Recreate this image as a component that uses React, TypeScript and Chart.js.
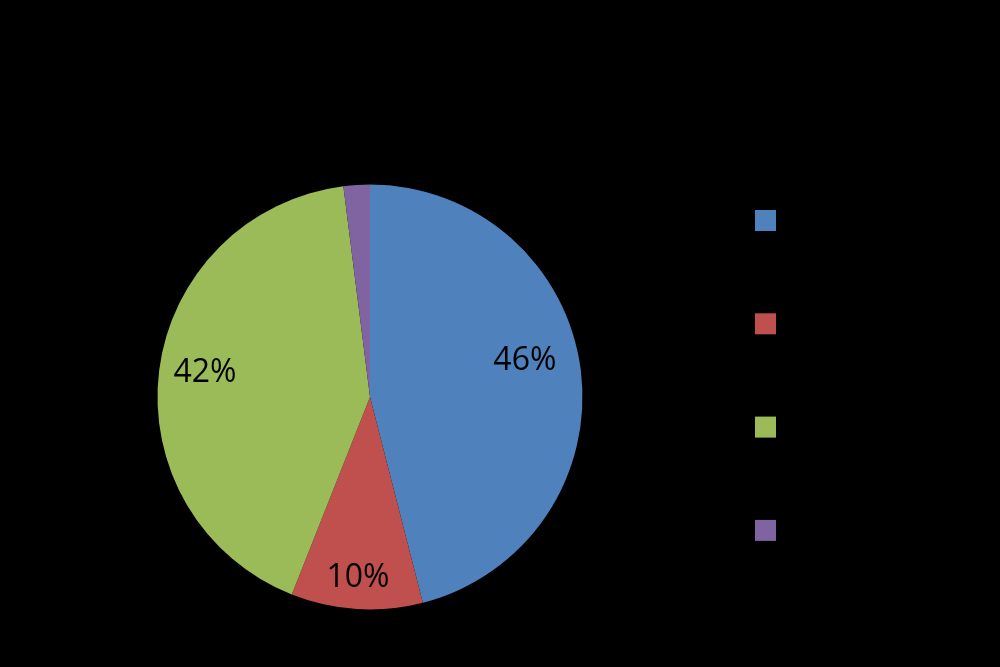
import React, { useEffect, useRef } from "react";
import { Chart, registerables } from "chart.js";

Chart.register(...registerables);

const categories = ["Series A", "Series B", "Series C", "Series D"];
const values = [46, 10, 42, 2];
const colors = ["#4F81BD", "#C0504D", "#9BBB59", "#8064A2"];
const minLabelPct = 5;

const pctLabels = {
  id: "pctLabels",
  afterDatasetsDraw(chart: any, _args: any, opts: any) {
    const ctx = chart.ctx;
    const meta = chart.getDatasetMeta(0);
    const data = chart.data.datasets[0].data as number[];
    const total = data.reduce((a, b) => a + b, 0);
    ctx.save();
    ctx.fillStyle = "#000000";
    ctx.font = "32px 'Open Sans', 'Noto Sans', sans-serif";
    ctx.textAlign = "center";
    ctx.textBaseline = "middle";
    meta.data.forEach((arc: any, i: number) => {
      const pct = (data[i] / total) * 100;
      if (pct < minLabelPct) return;
      const { x, y, startAngle, endAngle, outerRadius } = arc.getProps(
        ["x", "y", "startAngle", "endAngle", "outerRadius"],
        true
      );
      const af = opts.angleFrac[i] ?? 0.5;
      const rf = opts.radiusFrac[i] ?? 0.79;
      const mid = startAngle + (endAngle - startAngle) * af;
      const r = outerRadius * rf;
      ctx.fillText(Math.round(pct) + "%", x + Math.cos(mid) * r, y + Math.sin(mid) * r);
    });
    ctx.restore();
  },
};

const squareLegend = {
  id: "squareLegend",
  afterDraw(chart: any, _args: any, opts: any) {
    const ctx = chart.ctx;
    const labels = chart.data.labels as string[];
    const bg = chart.data.datasets[0].backgroundColor as string[];
    ctx.save();
    ctx.font = "18px 'Open Sans', sans-serif";
    ctx.textBaseline = "middle";
    labels.forEach((lab, i) => {
      const y = opts.top + i * opts.spacing;
      ctx.fillStyle = bg[i];
      ctx.fillRect(opts.left, y, opts.size, opts.size);
      ctx.fillStyle = "#000000";
      ctx.fillText(lab, opts.left + opts.size + 10, y + opts.size / 2);
    });
    ctx.restore();
  },
};

export default function App() {
  const ref = useRef<HTMLCanvasElement>(null);
  useEffect(() => {
    document.body.style.margin = "0";
    document.body.style.background = "#000";
    const chart = new Chart(ref.current!, {
      type: "pie",
      data: {
        labels: categories,
        datasets: [
          {
            data: values,
            backgroundColor: colors,
            borderWidth: 0,
          },
        ],
      },
      options: {
        responsive: false,
        animation: false,
        devicePixelRatio: 1,
        layout: { padding: { left: 157.5, right: 417.5, top: 184.5, bottom: 57.5 } },
        plugins: {
          legend: { display: false },
          tooltip: { enabled: false },
          pctLabels: { angleFrac: [0.465, 0.505, 0.507], radiusFrac: [0.748, 0.854, 0.785] },
          squareLegend: { left: 755, top: 210, spacing: 103.3, size: 21 },
        } as any,
      },
      plugins: [pctLabels, squareLegend],
    });
    return () => chart.destroy();
  }, []);
  return (
    <div style={{ width: 1000, height: 667, background: "#000" }}>
      <canvas ref={ref} width={1000} height={667} style={{ display: "block" }} />
    </div>
  );
}
